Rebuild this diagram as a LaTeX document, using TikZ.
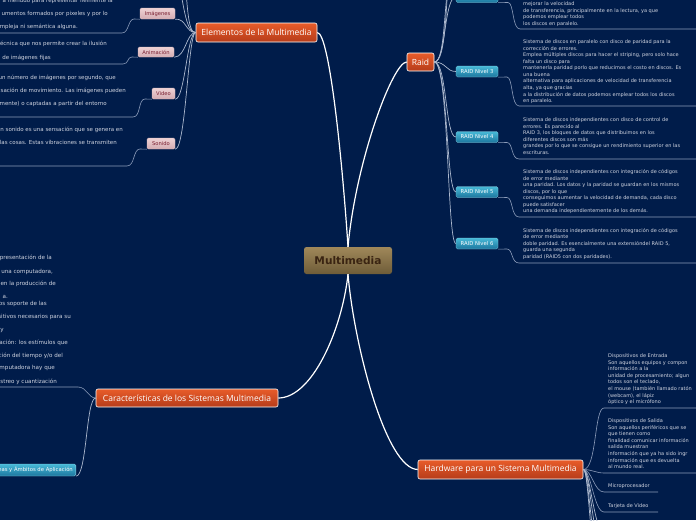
\documentclass[tikz,border=0pt]{standalone}
\usepackage{fontspec}
\setmainfont{DejaVu Sans}
\newfontfamily\nodefont{Open Sans}
\definecolor{bgc}{RGB}{0,28,74}
\definecolor{orgT}{RGB}{232,92,42}
\definecolor{orgB}{RGB}{182,60,26}
\definecolor{brT}{RGB}{160,136,90}
\definecolor{brB}{RGB}{110,92,56}
\definecolor{brText}{RGB}{58,36,18}
\definecolor{pkT}{RGB}{238,210,213}
\definecolor{pkB}{RGB}{212,172,178}
\definecolor{pkText}{RGB}{120,30,48}
\definecolor{tlT}{RGB}{72,186,216}
\definecolor{tlB}{RGB}{28,118,158}
\definecolor{txtC}{RGB}{208,212,224}
\definecolor{connC}{RGB}{172,184,206}
\definecolor{ulC}{RGB}{140,156,186}
\tikzset{
  mainbox/.style={draw=white, line width=0.6pt, rounded corners=2pt, top color=orgT, bottom color=orgB, text=white, font=\nodefont\fontsize{8.5}{9}\selectfont, inner sep=0pt},
  mmbox/.style={rounded corners=2.5pt, top color=brT, bottom color=brB, text=brText, font=\bfseries\fontsize{10.6}{11}\selectfont, inner sep=0pt},
  pinkbox/.style={draw=pkB!80!white, line width=0.4pt, rounded corners=1.5pt, top color=pkT, bottom color=pkB, text=pkText, font=\fontsize{5.2}{6}\selectfont, inner sep=0pt, minimum height=11pt},
  tealbox/.style={draw=tlT!60!white, line width=0.3pt, rounded corners=1.5pt, top color=tlT, bottom color=tlB, text=white, font=\fontsize{5.3}{6}\selectfont, inner sep=0pt, minimum height=11pt, minimum width=42pt},
  mainconn/.style={draw=white, line width=1.2pt},
  conn/.style={draw=connC, line width=0.7pt},
  uline/.style={draw=ulC, line width=0.6pt},
  txt/.style={text=txtC, font=\fontsize{5}{6.55}\selectfont, align=left, inner sep=0pt, anchor=base west},
  ltxt/.style={text=txtC, font=\fontsize{5.5}{6}\selectfont, inner sep=0pt, anchor=base east},
  ctxt/.style={text=txtC, font=\fontsize{5.6}{6}\selectfont, inner sep=0pt, anchor=base east},
}
\begin{document}
\begin{tikzpicture}[x=1pt,y=-1pt]
\useasboundingbox (0,0) rectangle (696,520);
\fill[bgc] (0,0) rectangle (696,520);
\clip (0,0) rectangle (696,520);

% main nodes
\node[mmbox, minimum width=88pt, minimum height=27pt] (mm) at (348,260.5) {Multimedia};
\node[mainbox, minimum width=121pt, minimum height=19pt] (el) at (256.5,32.5) {Elementos de la Multimedia};
\node[mainbox, minimum width=27pt, minimum height=18pt] (raid) at (420.5,62) {Raid};
\node[mainbox, minimum width=182pt, minimum height=18pt] (car) at (187,398) {Características de los Sistemas Multimedia};
\node[mainbox, minimum width=165pt, minimum height=19pt] (hw) at (500.5,469.5) {Hardware para un Sistema Multimedia};

% pink sub nodes
\node[pinkbox, minimum width=35pt] (img) at (157.5,13.5) {Imágenes};
\node[pinkbox, minimum width=36pt, minimum height=10pt] (ani) at (156,52) {Animación};
\node[pinkbox, minimum width=23pt] (vid) at (163.5,93.5) {Video};
\node[pinkbox, minimum width=28pt] (son) at (161,143.5) {Sonido};

% teal sub nodes
\node[tealbox] (r2) at (477,-3) {RAID Nivel 2};
\node[tealbox] (r3) at (477,71.5) {RAID Nivel 3};
\node[tealbox] (r4) at (477,137) {RAID Nivel 4};
\node[tealbox] (r5) at (477,192) {RAID Nivel 5};
\node[tealbox] (r6) at (477,243.5) {RAID Nivel 6};
\node[tealbox, anchor=east, minimum height=12pt, inner xsep=3pt] (amb) at (76,470) {Áreas y Ámbitos de Aplicación};

% off-canvas coordinates
\coordinate (eu1) at (176,-40);
\coordinate (eu2) at (181,-90);
\coordinate (ru1) at (452,-40);
\coordinate (ru2) at (452,-90);
\coordinate (hd1) at (606,545);
\coordinate (hd2) at (606,575);
\coordinate (hd3) at (606,610);
\coordinate (hd4) at (606,650);

% main connectors
\draw[mainconn] (el.east) .. controls (330,33) and (343,170) .. (mm.north);
\draw[mainconn] (raid.west) .. controls (393,62) and (356,160) .. (mm.north);
\draw[mainconn] (mm.south) .. controls (342,330) and (312,398) .. (car.east);
\draw[mainconn] (mm.south) .. controls (354,345) and (386,469) .. (hw.west);

% Elementos children
\draw[conn] (el.west) .. controls (186,33) and (186,18) .. (img.south east);
\draw[conn] (el.west) .. controls (186,33) and (186,57) .. (ani.south east);
\draw[conn] (el.west) .. controls (187,33) and (185,99) .. (vid.south east);
\draw[conn] (el.west) .. controls (188,33) and (186,149) .. (son.south east);
\draw[conn] (el.west) .. controls (186,33) and (183,5) .. (eu1);
\draw[conn] (el.west) .. controls (187,33) and (187,5) .. (eu2);

\draw[uline] (img.south west) -- (134,19) .. controls (128,19) and (129,33) .. (122,33) -- (-5,33);
\draw[uline] (ani.south west) -- (132,57) .. controls (127,57) and (129,64) .. (123,64) -- (-5,64);
\draw[uline] (vid.south west) -- (145,99) .. controls (138,99) and (141,117) .. (133,117) -- (-5,117);
\draw[uline] (son.south west) -- (140,149) .. controls (133,149) and (135,166) .. (127,166) -- (-5,166);

% Raid children
\draw[conn] (raid.east) .. controls (446,62) and (444,-3) .. (r2.west);
\draw[conn] (raid.east) .. controls (446,62) and (443,0) .. (ru1);
\draw[conn] (raid.east) .. controls (447,62) and (446,0) .. (ru2);
\draw[conn] (raid.east) .. controls (446,62) and (446,71.5) .. (r3.west);
\draw[conn] (raid.east) .. controls (447,62) and (445,137) .. (r4.west);
\draw[conn] (raid.east) .. controls (448,62) and (446,192) .. (r5.west);
\draw[conn] (raid.east) .. controls (449,62) and (447,243.5) .. (r6.west);

\draw[uline] (r2.south east) -- (508,2.5) .. controls (514,2.5) and (512,29) .. (520,29) -- (700,29);
\draw[uline] (r3.south east) -- (507,77) .. controls (513,77) and (511,106) .. (519,106) -- (700,106);
\draw[uline] (r4.south east) -- (507,142.5) .. controls (513,142.5) and (511,159) .. (519,159) -- (700,159);
\draw[uline] (r5.south east) -- (507,197.5) .. controls (513,197.5) and (511,217) .. (519,217) -- (700,217);
\draw[uline] (r6.south east) -- (507,249) .. controls (513,249) and (511,263) .. (519,263) -- (700,263);

% Caracteristicas children
\draw[uline] (car.west) .. controls (88,398) and (87,387) .. (78,387) -- (-5,387);
\draw[conn] (car.west) .. controls (86,398) and (87,476) .. (amb.south east);

% Hardware children
\draw[uline] (hw.east) .. controls (597,469.5) and (594,408) .. (604,408) -- (700,408);
\draw[uline] (hw.east) .. controls (592,469.5) and (596,473) .. (604,473) -- (700,473);
\draw[uline] (hw.east) .. controls (592,469.5) and (594,492) .. (604,492) -- (658,492);
\draw[uline] (hw.east) .. controls (591,469.5) and (594,512) .. (604,512) -- (658,512);
\draw[conn] (hw.east) .. controls (590,469.5) and (592,520) .. (hd1);
\draw[conn] (hw.east) .. controls (590,469.5) and (591,530) .. (hd2);
\draw[conn] (hw.east) .. controls (589,469.5) and (590,540) .. (hd3);
\draw[conn] (hw.east) .. controls (589,469.5) and (589,550) .. (hd4);

% Elementos texts
\node[ltxt] (a1) at (113,2.7) {a menudo para representar fielmente la};
\node[ltxt] (a2) at (108,15.7) {umentos formados por pixeles y por lo};
\node[ltxt] (a3) at (78,28.7) {mpleja ni semántica alguna.};
\node[ltxt] (a4) at (107,45.7) {écnica que nos permite crear la ilusión};
\node[ltxt] (a5) at (51,59.7) {de imágenes fijas};
\node[ltxt] (a6) at (116,79.7) {un número de imágenes por segundo, que};
\node[ltxt] (a7) at (126,92.7) {sación de movimiento. Las imágenes pueden};
\node[ltxt] (a8) at (107,105.7) {mente) o captadas a partir del entorno};
\node[ltxt] (a9) at (123,131.7) {n sonido es una sensación que se genera en};
\node[ltxt] (a10) at (117,144.7) {las cosas. Estas vibraciones se transmiten};

% Caracteristicas texts
\node[ctxt] (c1) at (52,259.7) {presentación de la};
\node[ctxt] (c2) at (53,273.7) {r una computadora,};
\node[ctxt] (c3) at (56,285.7) {en la producción de};
\node[ctxt] (c4) at (8,298.7) {a.};
\node[ctxt] (c5) at (47,305.7) {os soporte de las};
\node[ctxt] (c6) at (71,318.7) {sitivos necesarios para su};
\node[ctxt] (c7) at (4,331.7) {y};
\node[ctxt] (c8) at (68,344.7) {nación: los estímulos que};
\node[ctxt] (c9) at (63,357.7) {ción del tiempo y/o del};
\node[ctxt] (c10) at (55,369.7) {omputadora hay que};
\node[ctxt] (c11) at (57,383.7) {streo y cuantización};

% RAID texts (base = baseline of last line)
\node[txt] (t2) at (523,25.3) {mejorar la velocidad\\de transferencia, principalmente en la lectura, ya que\\podemos emplear todos\\los discos en paralelo.};
\node[txt] (t3) at (523,102.6) {Sistema de discos en paralelo con disco de paridad para la\\corrección de errores.\\Emplea múltiples discos para hacer el striping, pero solo hace\\falta un disco para\\mantenerla paridad porlo que reducimos el costo en discos. Es\\una buena\\alternativa para aplicaciones de velocidad de transferencia\\alta, ya que gracias\\a la distribución de datos podemos emplear todos los discos\\en paralelo.};
\node[txt] (t4) at (523,154.3) {Sistema de discos independientes con disco de control de\\errores. Es parecido al\\RAID 3, los bloques de datos que distribuimos en los\\diferentes discos son más\\grandes por lo que se consigue un rendimiento superior en las\\escrituras.};
\node[txt] (t5) at (523,212.8) {Sistema de discos independientes con integración de códigos\\de error mediante\\una paridad. Los datos y la paridad se guardan en los mismos\\discos, por lo que\\conseguimos aumentar la velocidad de demanda, cada disco\\puede satisfacer\\una demanda independientemente de los demás.};
\node[txt] (t6) at (523,258.4) {Sistema de discos independientes con integración de códigos\\de error mediante\\doble paridad. Es esencialmente una extensióndel RAID 5,\\guarda una segunda\\paridad (RAID5 con dos paridades).};

% Hardware texts
\node[txt] (h1) at (608,403.6) {Dispositivos de Entrada\\Son aquellos equipos y compon\\información a la\\unidad de procesamiento; algun\\todos son el teclado,\\el mouse (también llamado ratón\\(webcam), el lápiz\\óptico y el micrófono};
\node[txt] (h2) at (608,468.6) {Dispositivos de Salida\\Son aquellos periféricos que se\\que tienen como\\finalidad comunicar información\\salida muestran\\información que ya ha sido ingr\\información que es devuelta\\al mundo real.};
\node[txt] (h3) at (608,487.6) {Microprocesador};
\node[txt] (h4) at (608,507.6) {Tarjeta de Video};
\end{tikzpicture}
\end{document}
